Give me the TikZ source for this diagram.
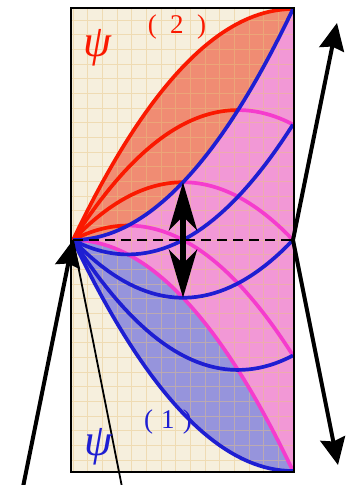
\documentclass[tikz,border=0pt]{standalone}
\usepackage{fontspec}
\setmainfont{Liberation Serif}
\usepackage{xcolor}
\usetikzlibrary{arrows.meta}

\definecolor{paper}{RGB}{246,239,221}
\definecolor{gridtan}{RGB}{232,196,128}
\definecolor{lensred}{RGB}{240,140,115}
\definecolor{lenspink}{RGB}{242,152,214}
\definecolor{lensblue}{RGB}{150,148,220}
\definecolor{psired}{RGB}{250,25,0}
\definecolor{psiblue}{RGB}{30,30,210}
\definecolor{psimag}{RGB}{245,60,205}

\begin{document}
\begin{tikzpicture}[x=1pt, y=1pt,
  gridline/.style={draw=gridtan, line width=0.6pt, opacity=0.45},
  redcurve/.style={draw=psired, line width=3.7pt},
  magcurve/.style={draw=psimag, line width=3.7pt},
  bluecurve/.style={draw=psiblue, line width=3.7pt},
  dashline/.style={black, line width=2pt, dash pattern=on 10pt off 6pt},
  bigarrow/.style={line width=4pt, -{Stealth[length=27pt, width=25pt, inset=3pt]}},
  twoarrow/.style={line width=4pt, line join=miter, {Stealth[length=27pt, width=25pt, inset=3pt]}-{Stealth[length=27pt, width=25pt, inset=3pt]}},
  midarrow/.style={line width=6pt, {Stealth[length=48pt, width=28pt, inset=14pt]}-{Stealth[length=48pt, width=28pt, inset=14pt]}},
  thinline/.style={black, line width=1.8pt},
  lab/.style={inner sep=0pt}
]
\useasboundingbox (-73,-245) rectangle (276,240);
\coordinate (P) at (0,0);
\coordinate (Q) at (220,0);

% paper and the three lenses
\fill[paper] (-2,-231) rectangle (221,231);
\fill[lensred] plot[domain=0:1, samples=50] ({220*\x},{-231*\x*\x+462*\x})
  -- plot[domain=1:0, samples=50] ({220*\x},{231*\x*\x}) -- cycle;
\fill[lenspink] plot[domain=0:1, samples=50] ({220*\x},{231*\x*\x})
  -- (221,231) -- (221,-231)
  -- plot[domain=1:0, samples=50] ({220*\x},{-231*\x*\x}) -- cycle;
\fill[lensblue] plot[domain=0:1, samples=50] ({220*\x},{-231*\x*\x})
  -- plot[domain=1:0, samples=50] ({220*\x},{231*\x*\x-462*\x}) -- cycle;
\draw[gridline, step=14.67pt] (-2,-231) grid (221,231);

% psi(2) family, red up to the apex, magenta after
\foreach \b/\s in {462/1, 346.5/0.75, 231/0.5, 115.5/0.25} {
  \draw[redcurve] plot[domain=0:\s, samples=40] ({220*\x},{-231*\x*\x+\b*\x});
}
\foreach \b/\s in {346.5/0.75, 231/0.5, 115.5/0.25} {
  \draw[magcurve] plot[domain=\s:1, samples=40] ({220*\x},{-231*\x*\x+\b*\x});
}
\draw[magcurve] plot[domain=0:1, samples=50] ({220*\x},{-231*\x*\x});

% psi(1) family
\foreach \b in {462, 346.5, 231, 115.5} {
  \draw[bluecurve] plot[domain=0:1, samples=40] ({220*\x},{231*\x*\x-\b*\x});
}
\draw[bluecurve] plot[domain=0:1, samples=50] ({220*\x},{231*\x*\x});

\draw[dashline] (P) -- (Q);
\draw[black, line width=2.5pt] (-2,-232) rectangle (221,232);

% arrows
\coordinate (leftFoot) at (-51,-252);
\coordinate (thinFoot) at (50,-252);
\coordinate (rightTop) at (264,217);
\coordinate (rightBot) at (265,-225);
\coordinate (apexUp) at (110,57.75);
\coordinate (apexDown) at (110,-57.75);
\draw[bigarrow] (leftFoot) -- (P);
\draw[thinline] (P) -- (thinFoot);
\draw[twoarrow] (rightTop) -- (Q) -- (rightBot);
\draw[midarrow] (apexDown) -- (apexUp);

% labels
\node[lab, text=psired, font=\fontsize{45}{45}\selectfont\itshape] (psiTwo) at (24,192) {ψ};
\node[lab, text=psired, font=\fontsize{27}{27}\selectfont] (labTwo) at (104,213) {(\hspace{0.5em}2\hspace{0.5em})};
\node[lab, text=psiblue, font=\fontsize{45}{45}\selectfont\itshape] (psiOne) at (25,-207) {ψ};
\node[lab, text=psiblue, font=\fontsize{27}{27}\selectfont] (labOne) at (95,-182) {(\hspace{0.3em}1\hspace{0.3em})};
\end{tikzpicture}
\end{document}
